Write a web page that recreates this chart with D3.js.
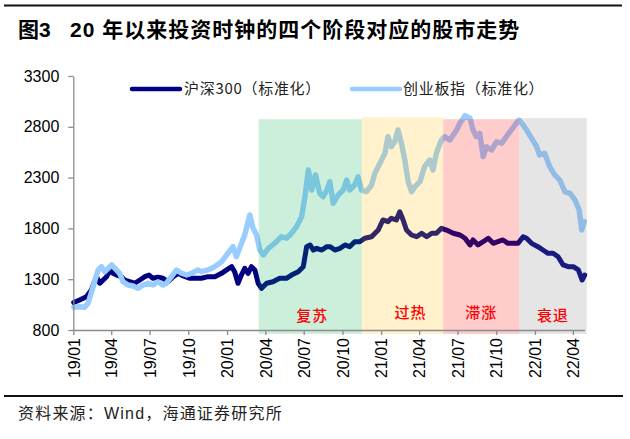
<!DOCTYPE html>
<html>
<head>
<meta charset="utf-8">
<script src="https://cdn.jsdelivr.net/npm/d3@7"></script>
<style>
  html, body { margin: 0; padding: 0; background: #fff; }
  svg { display: block; }
</style>
</head>
<body>
<svg id="chart" width="630" height="439"></svg>
<script>
// ---------------- DATA ----------------
const yTicks = [800, 1300, 1800, 2300, 2800, 3300];
const seriesNames = ["沪深300（标准化）", "创业板指（标准化）"];

const hs300Dates = [
"2019-01-02","2019-01-16","2019-02-01","2019-02-13","2019-02-25","2019-03-05","2019-03-13","2019-03-21","2019-03-29","2019-04-04",
"2019-04-14","2019-04-25","2019-05-03","2019-05-15","2019-05-27","2019-06-08","2019-06-20","2019-06-30","2019-07-09","2019-07-21",
"2019-08-02","2019-08-14","2019-08-26","2019-09-07","2019-09-19","2019-10-05","2019-10-20","2019-11-01","2019-11-17","2019-12-03",
"2019-12-19","2019-12-31","2020-01-12","2020-01-19","2020-01-27","2020-02-04","2020-02-12","2020-02-20","2020-02-28","2020-03-07",
"2020-03-15","2020-03-23","2020-04-04","2020-04-19","2020-05-05","2020-05-21","2020-06-02","2020-06-18","2020-06-30","2020-07-08",
"2020-07-16","2020-07-24","2020-08-01","2020-08-13","2020-08-25","2020-09-02","2020-09-13","2020-09-25","2020-10-07","2020-10-18",
"2020-10-30","2020-11-11","2020-11-23","2020-12-09","2020-12-25","2021-01-05","2021-01-17","2021-01-25","2021-02-06","2021-02-14",
"2021-02-22","2021-03-02","2021-03-14","2021-03-26","2021-04-07","2021-04-19","2021-05-01","2021-05-12","2021-05-24","2021-06-05",
"2021-06-21","2021-07-07","2021-07-19","2021-07-31","2021-08-07","2021-08-19","2021-08-31","2021-09-12","2021-09-24","2021-10-05",
"2021-10-17","2021-10-29","2021-11-10","2021-11-22","2021-12-04","2021-12-12","2021-12-24","2022-01-08","2022-01-20","2022-02-01",
"2022-02-13","2022-02-25","2022-03-09","2022-03-21","2022-04-02","2022-04-14","2022-04-23","2022-04-29"];
const hs300Values = [
1070,1095,1128,1194,1325,1260,1292,1325,1391,1361,
1341,1325,1292,1275,1260,1292,1325,1341,1309,1319,
1309,1275,1325,1358,1332,1309,1309,1309,1325,1325,
1358,1391,1423,1374,1260,1341,1407,1358,1423,1391,
1260,1210,1260,1275,1309,1309,1341,1374,1423,1620,
1637,1587,1604,1587,1620,1620,1587,1604,1637,1620,
1669,1669,1703,1718,1784,1883,1866,1899,1883,1964,
1883,1784,1735,1718,1752,1718,1752,1752,1801,1784,
1752,1735,1703,1637,1686,1637,1669,1703,1653,1669,
1686,1653,1653,1653,1718,1703,1653,1620,1587,1555,
1555,1521,1440,1423,1423,1391,1292,1341];

const cybDates = [
"2019-01-02","2019-01-16","2019-01-28","2019-02-05","2019-02-17","2019-03-01","2019-03-09","2019-03-17","2019-03-25","2019-04-02",
"2019-04-10","2019-04-21","2019-04-29","2019-05-11","2019-05-23","2019-06-04","2019-06-16","2019-06-28","2019-07-09","2019-07-21",
"2019-08-02","2019-08-10","2019-08-22","2019-09-03","2019-09-15","2019-09-27","2019-10-09","2019-10-24","2019-11-01","2019-11-17",
"2019-12-03","2019-12-19","2020-01-03","2020-01-15","2020-01-23","2020-01-31","2020-02-12","2020-02-24","2020-03-03","2020-03-11",
"2020-03-19","2020-03-27","2020-04-08","2020-04-23","2020-05-09","2020-05-21","2020-06-02","2020-06-14","2020-06-26","2020-07-04",
"2020-07-12","2020-07-20","2020-07-29","2020-08-08","2020-08-16","2020-08-25","2020-09-01","2020-09-09","2020-09-21","2020-10-03",
"2020-10-11","2020-10-18","2020-10-30","2020-11-07","2020-11-15","2020-11-27","2020-12-09","2020-12-17","2020-12-29","2021-01-10",
"2021-01-17","2021-01-25","2021-02-02","2021-02-10","2021-02-18","2021-02-26","2021-03-06","2021-03-14","2021-03-22","2021-04-03",
"2021-04-14","2021-04-26","2021-05-04","2021-05-12","2021-05-24","2021-06-01","2021-06-13","2021-06-29","2021-07-07","2021-07-19",
"2021-07-31","2021-08-07","2021-08-15","2021-08-23","2021-08-31","2021-09-08","2021-09-20","2021-10-02","2021-10-14","2021-10-25",
"2021-11-06","2021-11-18","2021-11-24","2021-12-04","2021-12-12","2021-12-24","2022-01-05","2022-01-12","2022-01-24","2022-02-05",
"2022-02-17","2022-03-01","2022-03-13","2022-03-25","2022-04-06","2022-04-16","2022-04-22","2022-04-28"];
const cybValues = [
1023,1029,1023,1063,1226,1391,1423,1374,1407,1440,
1407,1358,1275,1243,1233,1210,1243,1260,1243,1275,
1243,1260,1325,1391,1358,1341,1358,1391,1374,1391,
1423,1472,1555,1620,1521,1604,1735,1932,1801,1735,
1587,1538,1604,1653,1718,1703,1752,1817,1915,2112,
2375,2178,2326,2146,2112,2178,2260,2047,2129,2178,
2276,2178,2227,2309,2178,2161,2227,2342,2441,2539,
2703,2604,2653,2769,2638,2473,2260,2161,2211,2260,
2407,2473,2375,2539,2670,2703,2670,2769,2835,2910,
2884,2769,2703,2736,2506,2604,2572,2653,2638,2703,
2769,2835,2867,2818,2769,2687,2604,2522,2539,2407,
2326,2276,2161,2145,2080,1981,1784,1866];

const regionNames  = ["复苏", "过热", "滞涨", "衰退"];
const regionStarts = ["2020-03-16", "2020-11-16", "2021-05-28", "2021-11-25"];
const regionEnds   = ["2020-11-16", "2021-05-28", "2021-11-25", "2022-05-04"];
const regionTops   = [2875, 2895, 2875, 2885];

// ---------------- STYLE / LAYOUT ----------------
const regionFills = ["#00B050", "#FFC000", "#FF0000", "#7F7F7F"];
const regionLabelDx = [2, 8, 0, 0];
const regionLabelY = [316, 313, 313, 316];
const lineColors = ["#000080", "#99CCFF"];
const latin = "'Liberation Sans', Arial, 'Noto Sans CJK SC', sans-serif";
const cjk = "'Noto Sans CJK SC', 'Liberation Sans', sans-serif";

const parse = d3.timeParse("%Y-%m-%d");
const svg = d3.select("#chart");
svg.append("rect").attr("width", 630).attr("height", 439).attr("fill", "#fff");

const x = d3.scaleTime()
  .domain([parse("2019-01-01"), parse("2022-05-01")])
  .range([73.3, 585.5]);
const y = d3.scaleLinear().domain([800, 3300]).range([330, 76]);

const hs300 = hs300Dates.map((d, i) => ({ date: parse(d), value: hs300Values[i] }));
const cyb = cybDates.map((d, i) => ({ date: parse(d), value: cybValues[i] }));

const line = d3.line().x(d => x(d.date)).y(d => y(d.value)).curve(d3.curveLinear);

const plot = svg.append("g");
plot.append("path").datum(hs300).attr("d", line)
  .attr("fill", "none").attr("stroke", lineColors[0]).attr("stroke-width", 5)
  .attr("stroke-linejoin", "round").attr("stroke-linecap", "round");
plot.append("path").datum(cyb).attr("d", line)
  .attr("fill", "none").attr("stroke", lineColors[1]).attr("stroke-width", 5.4)
  .attr("stroke-linejoin", "round").attr("stroke-linecap", "round");

// shaded phases (semi-transparent, on top of lines)
const regions = regionNames.map((n, i) => ({
  name: n, start: parse(regionStarts[i]), end: parse(regionEnds[i]), top: regionTops[i], i
}));
const yBottom = y(800) + 4;
svg.append("g").selectAll("rect").data(regions).join("rect")
  .attr("x", d => x(d.start))
  .attr("width", d => x(d.end) - x(d.start))
  .attr("y", d => y(d.top))
  .attr("height", d => yBottom - y(d.top))
  .attr("fill", d => regionFills[d.i])
  .attr("fill-opacity", 0.2);

// axes
const axisColor = "#8c8c8c";
const yAxis = svg.append("g").attr("transform", "translate(73.3,0)")
  .call(d3.axisLeft(y).tickValues(yTicks).tickSize(5).tickSizeOuter(0).tickPadding(9).tickFormat(d3.format("d")));
yAxis.selectAll("text").attr("font-family", latin).attr("font-size", 16).attr("fill", "#000");

const xTickDates = d3.timeMonth.every(3).range(parse("2019-01-01"), parse("2022-04-02"));
const xAxis = svg.append("g").attr("transform", "translate(0,330)")
  .call(d3.axisBottom(x).tickValues(xTickDates).tickSize(5).tickSizeOuter(0).tickFormat(d3.timeFormat("%y/%m")));
xAxis.selectAll("text")
  .attr("font-family", latin).attr("font-size", 16).attr("fill", "#000")
  .attr("transform", "rotate(-90)")
  .attr("text-anchor", "end")
  .attr("x", -8).attr("y", 0).attr("dy", "0.36em");
[yAxis, xAxis].forEach(a => {
  a.select(".domain").attr("stroke", axisColor).attr("stroke-width", 1.3);
  a.selectAll(".tick line").attr("stroke", axisColor).attr("stroke-width", 1.3);
});
xAxis.select(".domain").attr("d", "M73.3,0.5H585");

// phase labels
svg.append("g").selectAll("text").data(regions).join("text")
  .attr("x", d => (x(d.start) + x(d.end)) / 2 + regionLabelDx[d.i])
  .attr("y", d => regionLabelY[d.i])
  .attr("dy", "0.36em")
  .attr("text-anchor", "middle")
  .attr("font-family", cjk).attr("font-size", 15).attr("font-weight", 500)
  .attr("letter-spacing", 1)
  .attr("fill", "#FF0000")
  .text(d => d.name);

// legend
const legendPos = [{ x1: 132, x2: 180, tx: 184 }, { x1: 352, x2: 400, tx: 403 }];
seriesNames.forEach((n, i) => {
  const p = legendPos[i];
  svg.append("line").attr("x1", p.x1).attr("x2", p.x2).attr("y1", 89).attr("y2", 89)
    .attr("stroke", lineColors[i]).attr("stroke-width", 4.5).attr("stroke-linecap", "round");
  svg.append("text").attr("x", p.tx).attr("y", 89).attr("dy", "0.36em")
    .attr("font-family", cjk).attr("font-size", 15).attr("letter-spacing", 0.7)
    .attr("fill", "#222").text(n);
});

// title and rules
svg.append("line").attr("x1", 4).attr("x2", 622).attr("y1", 5.5).attr("y2", 5.5)
  .attr("stroke", "#111").attr("stroke-width", 2);
svg.append("text").attr("x", 18).attr("y", 37)
  .attr("font-family", latin).attr("font-size", 21).attr("font-weight", "bold")
  .attr("fill", "#000").text("图3");
svg.append("text").attr("x", 70).attr("y", 37)
  .attr("font-family", latin).attr("font-size", 21).attr("font-weight", "bold")
  .attr("letter-spacing", 1)
  .attr("fill", "#000").text("20 年以来投资时钟的四个阶段对应的股市走势");

svg.append("line").attr("x1", 4).attr("x2", 623).attr("y1", 396).attr("y2", 396)
  .attr("stroke", "#111").attr("stroke-width", 2);
svg.append("text").attr("x", 18).attr("y", 419)
  .attr("font-family", latin).attr("font-size", 16).attr("letter-spacing", 1.2)
  .attr("fill", "#222").text("资料来源：Wind，海通证券研究所");
</script>
</body>
</html>
